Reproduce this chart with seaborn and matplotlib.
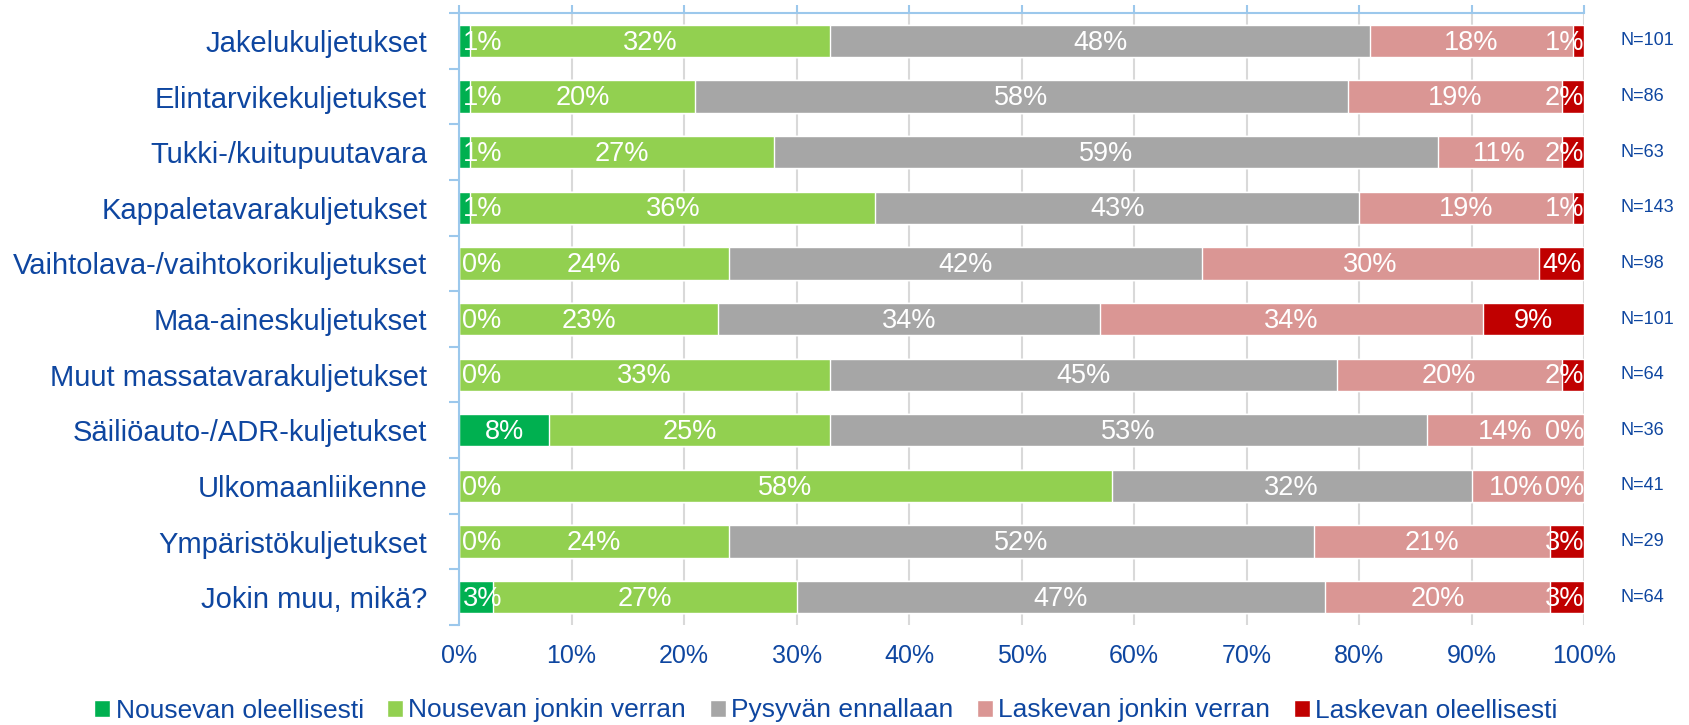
import numpy as np
import pandas as pd
import matplotlib.pyplot as plt
import seaborn as sns

categories = ['Jakelukuljetukset', 'Elintarvikekuljetukset', 'Tukki-/kuitupuutavara',
              'Kappaletavarakuljetukset', 'Vaihtolava-/vaihtokorikuljetukset',
              'Maa-aineskuljetukset', 'Muut massatavarakuljetukset',
              'Säiliöauto-/ADR-kuljetukset', 'Ulkomaanliikenne',
              'Ympäristökuljetukset', 'Jokin muu, mikä?']
n_labels = ['N=101', 'N=86', 'N=63', 'N=143', 'N=98', 'N=101', 'N=64',
            'N=36', 'N=41', 'N=29', 'N=64']

series_names = ['Nousevan oleellisesti', 'Nousevan jonkin verran', 'Pysyvän ennallaan',
                'Laskevan jonkin verran', 'Laskevan oleellisesti']
nousevan_oleellisesti = [1, 1, 1, 1, 0, 0, 0, 8, 0, 0, 3]
nousevan_jonkin = [32, 20, 27, 36, 24, 23, 33, 25, 58, 24, 27]
pysyvan = [48, 58, 59, 43, 42, 34, 45, 53, 32, 52, 47]
laskevan_jonkin = [18, 19, 11, 19, 30, 34, 20, 14, 10, 21, 20]
laskevan_oleellisesti = [1, 2, 2, 1, 4, 9, 2, 0, 0, 3, 3]

colors = ['#00b050', '#92d050', '#a6a6a6', '#da9694', '#c00000']
text_blue = '#0e46a0'
axis_blue = '#9cc8ec'

sns.set_theme(style='white')
plt.rcParams['font.family'] = ['Liberation Sans', 'DejaVu Sans']

# long table with cumulative sums for stacking
values = [nousevan_oleellisesti, nousevan_jonkin, pysyvan, laskevan_jonkin, laskevan_oleellisesti]
rows = []
for i, cat in enumerate(categories):
    cum = 0
    for s, name in enumerate(series_names):
        start = cum
        cum += values[s][i]
        rows.append({'category': cat, 'series': name, 'value': values[s][i],
                     'start': start, 'cum': cum})
df = pd.DataFrame(rows)

fig = plt.figure(figsize=(16.89, 7.25), dpi=100)
ax = fig.add_axes([0.2718, 0.1379, 0.6661, 0.8441])

# draw from the rightmost series backwards so each bar covers the next
for s in reversed(range(len(series_names))):
    sub = df[df['series'] == series_names[s]]
    sns.barplot(data=sub, x='cum', y='category', order=categories, orient='h',
                color=colors[s], width=0.58, saturation=1, label=series_names[s], ax=ax)

handles, labels = ax.get_legend_handles_labels()
if ax.get_legend() is not None:
    ax.get_legend().remove()

ax.set_xlim(0, 100)
ax.set_ylim(len(categories) - 0.5, -0.5)
ax.set_xticks(range(0, 101, 10))
ax.set_xticklabels([f'{t}%' for t in range(0, 101, 10)])
ax.set_xlabel('')
ax.set_ylabel('')
ax.grid(axis='x', color='#d9d9d9', linewidth=1.5)
ax.set_axisbelow(True)

for side in ['bottom', 'right']:
    ax.spines[side].set_visible(False)
for side in ['left', 'top']:
    ax.spines[side].set_color(axis_blue)
    ax.spines[side].set_linewidth(1.5)

ax.tick_params(axis='x', which='major', top=True, bottom=False, labeltop=False,
               labelbottom=True, direction='out', length=6, width=1.5,
               color=axis_blue, labelcolor=text_blue, labelsize=18, pad=8)
ax.set_yticks(np.arange(-0.5, len(categories), 1), minor=True)
ax.tick_params(axis='y', which='major', left=False, labelsize=21,
               labelcolor=text_blue, pad=17)
ax.tick_params(axis='y', which='minor', left=True, length=7, width=1.5,
               color=axis_blue)

# N labels on the right
for i, n in enumerate(n_labels):
    ax.text(1.032, i, n, transform=ax.get_yaxis_transform(), ha='left', va='center',
            fontsize=13, color=text_blue, clip_on=False)

# value labels, kept inside the plot like Excel does
texts = {}
for _, r in df.iterrows():
    y = categories.index(r['category'])
    t = ax.text(r['start'] + r['value'] / 2, y + 0.03, f"{r['value']}%", ha='center',
                va='center', color='white', fontsize=19.5)
    texts.setdefault(y, []).append(t)

fig.canvas.draw()
renderer = fig.canvas.get_renderer()
inv = ax.transData.inverted()


def x_extent(t):
    bb = t.get_window_extent(renderer)
    return inv.transform((bb.x0, bb.y0))[0], inv.transform((bb.x1, bb.y0))[0]


for y, row in texts.items():
    for t in row:
        x0, x1 = x_extent(t)
        x, yy = t.get_position()
        if x0 < 0.3:
            t.set_position((x + 0.3 - x0, yy))
        elif x1 > 100:
            t.set_position((x - (x1 - 100), yy))
    # push labels left if they run into the next one on the right
    for k in range(len(row) - 2, 0, -1):
        a0, a1 = x_extent(row[k])
        b0, b1 = x_extent(row[k + 1])
        if a1 > b0:
            x, yy = row[k].get_position()
            row[k].set_position((x - (a1 - b0) - 0.1, yy))

fig.legend(handles[::-1], labels[::-1], loc='center', bbox_to_anchor=(0.489, 0.02),
           ncol=5, frameon=False, fontsize=19, labelcolor=text_blue,
           handlelength=0.6, handleheight=0.6, handletextpad=0.2, columnspacing=0.9)

fig.savefig('out.png', dpi=100)
